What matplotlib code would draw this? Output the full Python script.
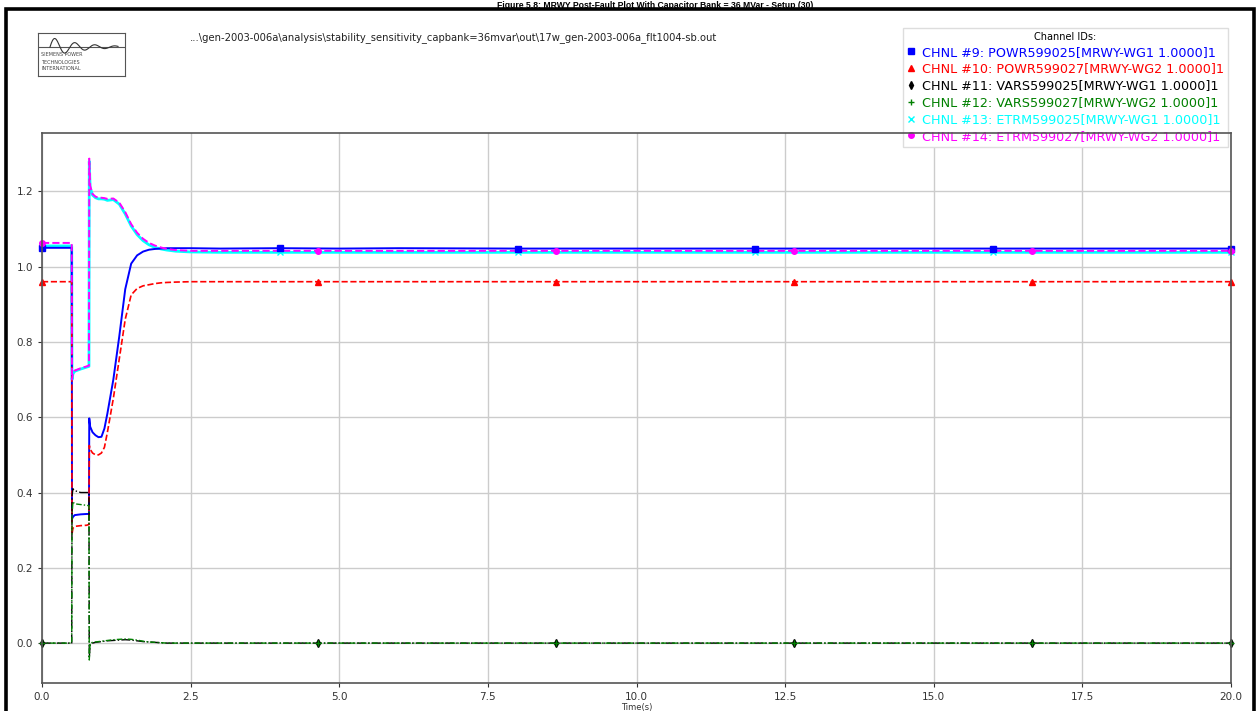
import numpy as np
import matplotlib.pyplot as plt
from matplotlib.lines import Line2D
from matplotlib.patches import Rectangle

W, H = 1257, 711

# ── data ───────────────────────────────────────────────────────────────
time_s = [0.0, 0.5, 0.505, 0.52, 0.55, 0.65, 0.75, 0.79, 0.795, 0.81,
          0.85, 0.9, 0.95, 1.0, 1.05, 1.1, 1.2, 1.3, 1.4, 1.5,
          1.6, 1.7, 1.8, 1.9, 2.0, 2.1, 2.25, 2.5, 3.0, 4.0,
          5.0, 6.0, 8.0, 10.0, 12.0, 14.0, 16.0, 18.0, 20.0]

powr_599025 = [1.05, 1.05, 0.33, 0.335, 0.34, 0.342, 0.343, 0.343, 0.597, 0.575,
               0.56, 0.552, 0.547, 0.548, 0.57, 0.61, 0.70, 0.815, 0.94, 1.008,
               1.03, 1.04, 1.045, 1.047, 1.048, 1.049, 1.049, 1.049, 1.048, 1.049,
               1.048, 1.049, 1.048, 1.048, 1.048, 1.048, 1.048, 1.048, 1.048]

powr_599027 = [0.96, 0.96, 0.29, 0.305, 0.31, 0.312, 0.313, 0.315, 0.525, 0.515,
               0.505, 0.50, 0.50, 0.505, 0.52, 0.56, 0.65, 0.755, 0.86, 0.925,
               0.942, 0.949, 0.952, 0.955, 0.957, 0.958, 0.959, 0.96, 0.96, 0.96,
               0.96, 0.96, 0.96, 0.96, 0.96, 0.96, 0.96, 0.96, 0.96]

vars_599025 = [0.0, 0.0, 0.39, 0.41, 0.405, 0.40, 0.40, 0.40, -0.04, -0.005,
               0.0, 0.002, 0.003, 0.004, 0.005, 0.006, 0.007, 0.008, 0.009, 0.008,
               0.006, 0.004, 0.003, 0.002, 0.001, 0.0, 0.0, 0.0, 0.0, 0.0,
               0.0, 0.0, 0.0, 0.0, 0.0, 0.0, 0.0, 0.0, 0.0]

vars_599027 = [0.0, 0.0, 0.34, 0.375, 0.37, 0.368, 0.366, 0.365, -0.045, 0.0,
               0.002, 0.003, 0.004, 0.005, 0.006, 0.007, 0.009, 0.010, 0.011, 0.010,
               0.008, 0.005, 0.003, 0.002, 0.001, 0.0, 0.0, 0.0, 0.0, 0.0,
               0.0, 0.0, 0.0, 0.0, 0.0, 0.0, 0.0, 0.0, 0.0]

etrm_599025 = [1.055, 1.055, 0.70, 0.715, 0.722, 0.728, 0.733, 0.735, 1.28, 1.21,
               1.19, 1.183, 1.18, 1.18, 1.179, 1.176, 1.178, 1.166, 1.14, 1.108,
               1.085, 1.069, 1.058, 1.051, 1.047, 1.044, 1.041, 1.039, 1.038, 1.038,
               1.038, 1.038, 1.038, 1.038, 1.038, 1.038, 1.038, 1.038, 1.038]

etrm_599027 = [1.063, 1.063, 0.70, 0.717, 0.724, 0.73, 0.735, 0.737, 1.287, 1.215,
               1.193, 1.186, 1.183, 1.183, 1.182, 1.18, 1.181, 1.17, 1.145, 1.113,
               1.09, 1.074, 1.063, 1.056, 1.051, 1.047, 1.044, 1.042, 1.042, 1.042,
               1.042, 1.042, 1.042, 1.042, 1.042, 1.042, 1.042, 1.042, 1.042]

# marker positions (channel symbols drawn along the traces)
mark_t_a = [0.0, 4.0, 8.0, 12.0, 16.0, 20.0]
mark_t_b = [0.0, 4.64, 8.65, 12.65, 16.65, 20.0]
powr_599025_mk = [1.05, 1.049, 1.048, 1.048, 1.048, 1.048]
powr_599027_mk = [0.96, 0.96, 0.96, 0.96, 0.96, 0.96]
vars_599025_mk = [0.0, 0.0, 0.0, 0.0, 0.0, 0.0]
vars_599027_mk = [0.0, 0.0, 0.0, 0.0, 0.0, 0.0]
etrm_599025_mk = [1.055, 1.038, 1.038, 1.038, 1.038, 1.038]
etrm_599027_mk = [1.063, 1.042, 1.042, 1.042, 1.042, 1.042]

labels = [
    "CHNL #9: POWR599025[MRWY-WG1 1.0000]1",
    "CHNL #10: POWR599027[MRWY-WG2 1.0000]1",
    "CHNL #11: VARS599025[MRWY-WG1 1.0000]1",
    "CHNL #12: VARS599027[MRWY-WG2 1.0000]1",
    "CHNL #13: ETRM599025[MRWY-WG1 1.0000]1",
    "CHNL #14: ETRM599027[MRWY-WG2 1.0000]1",
]
x_ticks = [0.0, 2.5, 5.0, 7.5, 10.0, 12.5, 15.0, 17.5, 20.0]
y_ticks = [0.0, 0.2, 0.4, 0.6, 0.8, 1.0, 1.2]

file_path = ("...\\gen-2003-006a\\analysis\\stability_sensitivity_capbank=36mvar"
             "\\out\\17w_gen-2003-006a_flt1004-sb.out")
title = "Figure 5.8: MRWY Post-Fault Plot With Capacitor Bank = 36 MVar - Setup (30)"


def fx(x):
    return x / W


def fy(y):
    return 1 - y / H


fig = plt.figure(figsize=(W / 100, H / 100), dpi=100, facecolor="white")

# outer page frame + caption squeezed above it
fig.patches.append(Rectangle((fx(6), fy(760)), fx(1248), fy(9) - fy(760),
                             transform=fig.transFigure, fill=False,
                             edgecolor="black", linewidth=2.6))
fig.text(fx(655), fy(0.5), title, ha="center", va="top", fontsize=6.2,
         fontweight="bold", family="Liberation Sans")

# logo
logo = fig.add_axes([fx(38), fy(76), fx(87), fy(33) - fy(76)])
logo.set_xlim(0, 87)
logo.set_ylim(43, 0)
logo.set_xticks([])
logo.set_yticks([])
for s in logo.spines.values():
    s.set_color("#555555")
    s.set_linewidth(0.8)
logo.axhline(14, color="#555555", lw=0.8)
wx = np.linspace(12, 80, 200)
wy = 14 - 10 * np.exp(-(wx - 12) / 30) * np.sin((wx - 12) / 20 * 2 * np.pi)
logo.plot(wx, wy, color="#333333", lw=0.8)
for i, s in enumerate(["SIEMENS POWER", "TECHNOLOGIES", "INTERNATIONAL"]):
    logo.text(3, 22 + i * 7, s, fontsize=3.5, color="#444444", va="center")

fig.text(fx(190), fy(38), file_path, fontsize=7.2, color="#222222", va="center")

# main axes
ax = fig.add_axes([fx(42), fy(683), fx(1231) - fx(42), fy(133) - fy(683)])
ax.set_xlim(0, 20)
ax.set_ylim(-0.106, 1.355)
ax.grid(True, color="#cccccc", linewidth=1.0)
ax.set_xticks(x_ticks)
ax.set_yticks(y_ticks)
ax.tick_params(labelsize=7.5, colors="#333333", length=3, width=0.8)
ax.set_xlabel("Time(s)", fontsize=6, labelpad=1, color="#333333")
for s in ax.spines.values():
    s.set_color("#555555")
    s.set_linewidth(1.2)

ax.plot(time_s, etrm_599025, color="cyan", lw=2.0, zorder=2)
ax.plot(time_s, powr_599025, color="blue", lw=1.4, zorder=2.1)
ax.plot(time_s, powr_599027, color="red", lw=1.2, ls="--", zorder=2.1)
ax.plot(time_s, vars_599025, color="black", lw=1.0, ls="-.", zorder=2.1)
ax.plot(time_s, vars_599027, color="green", lw=1.0, ls=(2, (4, 1.5, 1, 1.5)), zorder=2.2)
ax.plot(time_s, etrm_599027, color="magenta", lw=1.4, ls="--", zorder=2.2)

ms = 4
ax.plot(mark_t_a, etrm_599025_mk, "x", color="cyan", ms=ms, zorder=2.3, clip_on=False)
ax.plot(mark_t_a, powr_599025_mk, "s", color="blue", ms=ms, zorder=2.3, clip_on=False)
ax.plot(mark_t_b, powr_599027_mk, "^", color="red", ms=ms, zorder=2.3, clip_on=False)
ax.plot(mark_t_b, vars_599025_mk, "d", color="black", ms=ms, zorder=2.3, clip_on=False)
ax.plot(mark_t_b, vars_599027_mk, "+", color="green", ms=ms, zorder=2.3, clip_on=False)
ax.plot(mark_t_b, etrm_599027_mk, "o", color="magenta", ms=ms, zorder=2.3, clip_on=False)

colors = ["blue", "red", "black", "green", "cyan", "magenta"]
markers = ["s", "^", "d", "+", "x", "o"]
handles = [Line2D([], [], color=c, marker=m, ls="None", ms=4)
           for c, m in zip(colors, markers)]
leg = ax.legend(handles, labels, title="Channel IDs:", loc="upper right",
                bbox_to_anchor=(fx(1228), fy(28)), bbox_transform=fig.transFigure,
                fontsize=9.2, title_fontsize=7, labelspacing=0.3,
                handlelength=0.7, handletextpad=0.5, borderpad=0.3,
                borderaxespad=0, framealpha=1, edgecolor="#dddddd",
                fancybox=False)
for txt, c in zip(leg.get_texts(), colors):
    txt.set_color(c)
leg.set_zorder(2.4)

fig.savefig("out.png", dpi=100, facecolor="white")
